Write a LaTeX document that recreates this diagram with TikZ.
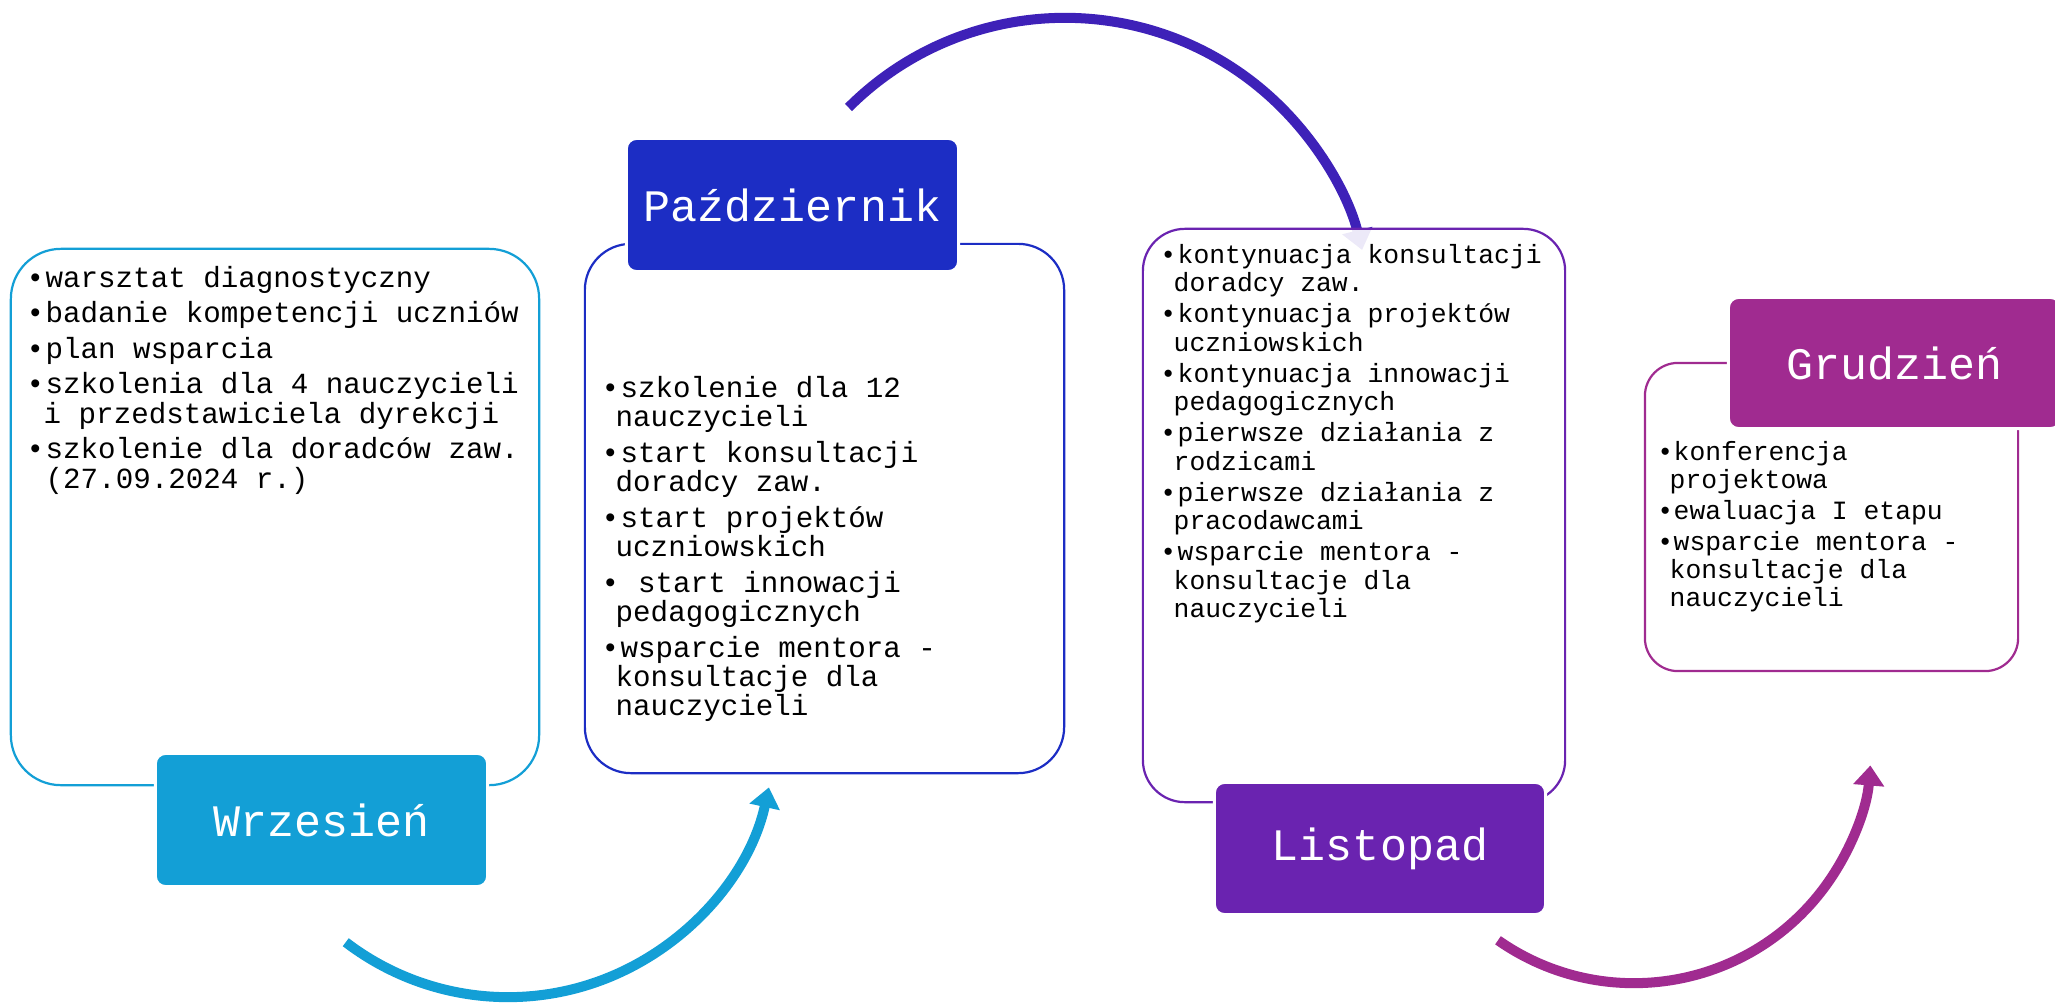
\documentclass[tikz,border=0pt]{standalone}
\usepackage{fontspec}
\setmainfont{Liberation Mono}
\usetikzlibrary{arrows.meta}
\definecolor{cA}{RGB}{19,159,214}
\definecolor{cB}{RGB}{28,45,196}
\definecolor{cC}{RGB}{106,35,176}
\definecolor{cD}{RGB}{160,43,144}
\definecolor{cArc}{RGB}{62,33,184}
\newdimen\pxu \pxu=0.01cm
\newcommand{\itm}[2]{\hbox{\makebox[#1\pxu][l]{\textbullet}#2}}
\newcommand{\cnt}[2]{\hbox{\hspace*{#1\pxu}#2}}
\newcommand{\gapv}[1]{\vskip #1\pxu}
\newcommand{\stack}[2]{\vtop{\baselineskip=#1\pxu\lineskiplimit=-100pt\lineskip=0pt #2}}
\tikzset{
  panel/.style={draw=#1, line width=0.022cm, fill=white, inner sep=0pt, outer sep=0pt},
  lab/.style={fill=#1, draw=white, line width=0.03cm, rounded corners=0.1cm, text=white,
    font=\fontsize{12.8pt}{15pt}\selectfont, inner sep=0pt, outer sep=0pt},
  bigarc/.style={draw=#1, line width=0.1cm, -{Triangle[length=0.2cm,width=0.3cm]}},
  bodyL/.style={anchor=base west, inner sep=0pt, font=\fontsize{8.3pt}{10pt}\selectfont},
  bodyS/.style={anchor=base west, inner sep=0pt, font=\fontsize{7.5pt}{9pt}\selectfont}
}
\begin{document}
\begin{tikzpicture}[x=0.01cm, y=0.01cm]
\useasboundingbox (0,0) rectangle (2055,-1006);
% arrows
\coordinate (s1) at ([shift={(232.6:2.67cm)}]508,-730);
\coordinate (s2) at ([shift={(135:3.06cm)}]1065,-324);
\coordinate (s3) at ([shift={(235:2.37cm)}]1634,-746);
\draw[bigarc=cA] (s1) arc[start angle=232.6, end angle=347.6, radius=2.67cm];
\draw[bigarc=cArc] (s2) arc[start angle=135, end angle=14, radius=3.06cm];
\draw[bigarc=cD] (s3) arc[start angle=235, end angle=355.3, radius=2.37cm];
% panels
\node[panel=cA, rounded corners=0.5cm, minimum width=5.28cm, minimum height=5.36cm] (p1) at (275,-517) {};
\node[panel=cB, rounded corners=0.46cm, minimum width=4.79cm, minimum height=5.29cm] (p2) at (824.5,-508.5) {};
\node[panel=cC, rounded corners=0.42cm, minimum width=4.22cm, minimum height=5.73cm, fill opacity=0.9] (p3) at (1354,-515.5) {};
\node[panel=cD, rounded corners=0.33cm, minimum width=3.73cm, minimum height=3.08cm] (p4) at (1831.5,-517) {};
% labels
\node[lab=cA, minimum width=3.32cm, minimum height=1.33cm] (l1) at (321.5,-820) {Wrzesień};
\node[lab=cB, minimum width=3.32cm, minimum height=1.33cm] (l2) at (792.5,-205) {Październik};
\node[lab=cC, minimum width=3.31cm, minimum height=1.32cm] (l3) at (1380,-848.5) {Listopad};
\node[lab=cD, minimum width=3.32cm, minimum height=1.31cm] (l4) at (1894.5,-363) {Grudzień};
% texts
\node[bodyL] (t1) at (26,-287) {\stack{29.5}{%
\itm{19}{warsztat diagnostyczny}\gapv{6}
\itm{19}{badanie kompetencji uczniów}\gapv{6}
\itm{19}{plan wsparcia}\gapv{6}
\itm{19}{szkolenia dla 4 nauczycieli}
\cnt{17}{i przedstawiciela dyrekcji}\gapv{6}
\itm{19}{szkolenie dla doradców zaw.}
\cnt{19}{(27.09.2024 r.)}}};
\node[bodyL] (t2) at (601,-397) {\stack{29}{%
\itm{19}{szkolenie dla 12}
\cnt{14}{nauczycieli}\gapv{7}
\itm{19}{start konsultacji}
\cnt{14}{doradcy zaw.}\gapv{7}
\itm{19}{start projektów}
\cnt{14}{uczniowskich}\gapv{7}
\itm{19}{\ start innowacji}
\cnt{14}{pedagogicznych}\gapv{7}
\itm{19}{wsparcie mentora -}
\cnt{14}{konsultacje dla}
\cnt{14}{nauczycieli}}};
\node[bodyS] (t3) at (1159.6,-263) {\stack{28.5}{%
\itm{17.4}{kontynuacja konsultacji}
\cnt{13.4}{doradcy zaw.}\gapv{2.5}
\itm{17.4}{kontynuacja projektów}
\cnt{13.4}{uczniowskich}\gapv{2.5}
\itm{17.4}{kontynuacja innowacji}
\cnt{13.4}{pedagogicznych}\gapv{2.5}
\itm{17.4}{pierwsze działania z}
\cnt{13.4}{rodzicami}\gapv{2.5}
\itm{17.4}{pierwsze działania z}
\cnt{13.4}{pracodawcami}\gapv{2.5}
\itm{17.4}{wsparcie mentora -}
\cnt{13.4}{konsultacje dla}
\cnt{13.4}{nauczycieli}}};
\node[bodyS] (t4) at (1656.6,-460) {\stack{28}{%
\itm{16.4}{konferencja}
\cnt{12.4}{projektowa}\gapv{3}
\itm{16.4}{ewaluacja I etapu}\gapv{3}
\itm{16.4}{wsparcie mentora -}
\cnt{12.4}{konsultacje dla}
\cnt{12.4}{nauczycieli}}};
\end{tikzpicture}
\end{document}
